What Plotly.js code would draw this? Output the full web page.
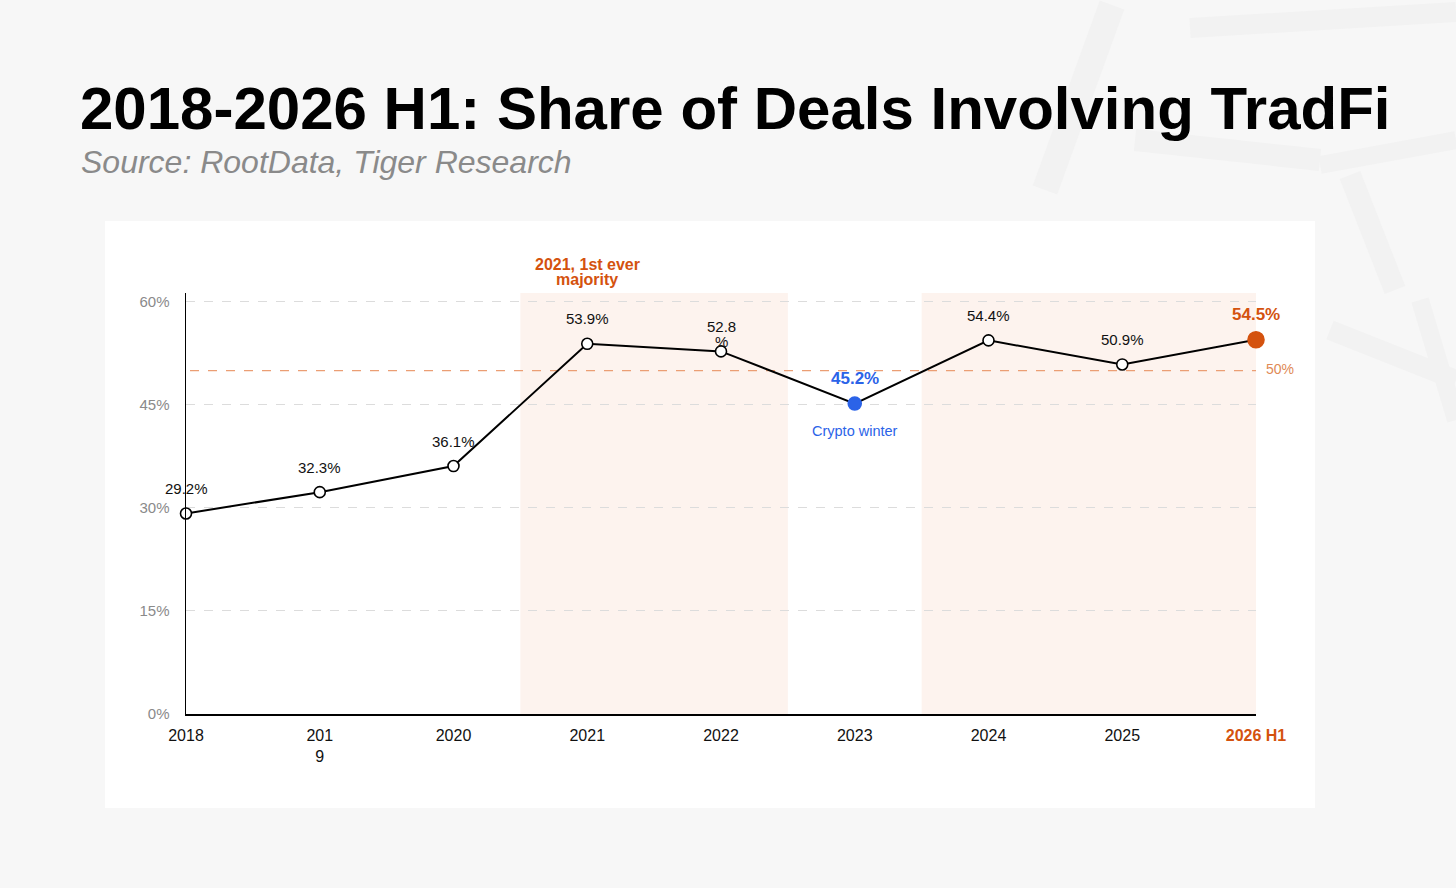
<!DOCTYPE html>
<html>
<head>
<meta charset="utf-8">
<script src="https://cdn.plot.ly/plotly-3.0.1.min.js"></script>
<style>
  html, body { margin: 0; padding: 0; background: #f7f7f7; }
  #myChart { width: 1456px; height: 888px; }
</style>
</head>
<body>
<div id="myChart"></div>
<script>
// data
const years = ["2018", "2019", "2020", "2021", "2022", "2023", "2024", "2025", "2026 H1"];
const tickLabels = ["2018", "201<br>9", "2020", "2021", "2022", "2023", "2024", "2025",
  "<b><span style='color:#d4520e'>2026 H1</span></b>"];
const shares = [29.2, 32.3, 36.1, 53.9, 52.8, 45.2, 54.4, 50.9, 54.5];
const pointLabels = ["29.2%", "32.3%", "36.1%", "53.9%", "52.8<br>%", "<b>45.2%</b>", "54.4%", "50.9%", "<b>54.5%</b>"];
const yTicks = [0, 15, 30, 45, 60];
const yTickLabels = ["0%", "15%", "30%", "45%", "60%"];
const majorityLine = 50;

const orange = "#d4520e";
const blue = "#2b63e8";
const FONT = "Liberation Sans, Arial, sans-serif";

// colours / sizes per point
let fill = shares.map(() => "white");
let edge = shares.map(() => "black");
let size = shares.map(() => 11);
let labelColor = shares.map(() => "#111");
let labelSize = shares.map(() => 15);
fill[5] = blue; edge[5] = blue; size[5] = 13; labelColor[5] = blue; labelSize[5] = 17;
fill[8] = orange; edge[8] = orange; size[8] = 16; labelColor[8] = orange; labelSize[8] = 17;

const xIdx = years.map((y, i) => i);

// pixel -> paper helpers (plot area is 186..1256 x 293..714)
const L = 186, R = 1256, T = 293, B = 714;
function px(x) { return (x - L) / (R - L); }
function py(y) { return (B - y) / (B - T); }

const data = [{
  x: xIdx,
  y: shares,
  mode: "lines+markers",
  opacity: 1,
  line: { color: "black", width: 2 },
  marker: { color: fill, size: size, opacity: 1, line: { color: edge, width: 1.6 } },
  cliponaxis: false,
  hoverinfo: "skip"
}];

// faint watermark strokes in the corner
function stroke(x0, y0, x1, y1, w) {
  return {
    type: "line", xref: "paper", yref: "paper", layer: "below",
    x0: px(x0), y0: py(y0), x1: px(x1), y1: py(y1),
    line: { color: "#f2f2f2", width: w }
  };
}

const shapes = [
  stroke(1045, 190, 1112, 5, 26),
  stroke(1190, 28, 1456, 12, 20),
  stroke(1135, 140, 1320, 160, 22),
  stroke(1320, 165, 1456, 140, 18),
  stroke(1350, 175, 1395, 290, 22),
  stroke(1330, 330, 1456, 380, 20),
  stroke(1420, 300, 1456, 420, 18),
  // white chart panel
  {
    type: "rect", xref: "paper", yref: "paper", layer: "below",
    x0: px(105), x1: px(1315), y0: py(808), y1: py(221),
    fillcolor: "white", line: { width: 0 }
  },
  // shaded bands
  {
    type: "rect", xref: "x", yref: "paper", layer: "below",
    x0: 2.5, x1: 4.5, y0: 0, y1: 1,
    fillcolor: "#fdf3ee", line: { width: 0 }
  },
  {
    type: "rect", xref: "x", yref: "paper", layer: "below",
    x0: 5.5, x1: 8, y0: 0, y1: 1,
    fillcolor: "#fdf3ee", line: { width: 0 }
  },
  // 50% line
  {
    type: "line", xref: "x", yref: "y", layer: "between",
    x0: 0.03, x1: 8, y0: majorityLine, y1: majorityLine,
    line: { color: "#eb9e74", width: 1.2, dash: "dash" }
  }
];

const annotations = [
  {
    text: "<b>2018-2026 H1: Share of Deals Involving TradFi</b>",
    xref: "paper", yref: "paper", x: px(78), y: py(108),
    xanchor: "left", yanchor: "middle", showarrow: false,
    font: { size: 60, color: "#000", family: FONT }
  },
  {
    text: "<i>Source: RootData, Tiger Research</i>",
    xref: "paper", yref: "paper", x: px(79), y: py(162),
    xanchor: "left", yanchor: "middle", showarrow: false,
    font: { size: 32, color: "#8a8a8a", family: FONT }
  },
  {
    text: "<b>2021, 1st ever</b>",
    xref: "x", yref: "paper", x: 3, y: py(264),
    xanchor: "center", yanchor: "middle", showarrow: false,
    font: { size: 16, color: orange, family: FONT }
  },
  {
    text: "<b>majority</b>",
    xref: "x", yref: "paper", x: 3, y: py(280),
    xanchor: "center", yanchor: "middle", showarrow: false,
    font: { size: 16, color: orange, family: FONT }
  },
  {
    text: "Crypto winter",
    xref: "x", yref: "y", x: 5, y: shares[5],
    xanchor: "center", yanchor: "middle", yshift: -27, showarrow: false,
    font: { size: 14.5, color: blue, family: FONT }
  },
  {
    text: majorityLine + "%",
    xref: "x", yref: "y", x: 8, y: majorityLine,
    xanchor: "left", yanchor: "middle", xshift: 8, yshift: 2, showarrow: false,
    font: { size: 14, color: "#e08a55", family: FONT }
  }
];

// value labels above each point (wrapped labels stack downwards)
pointLabels.forEach(function(lbl, i) {
  lbl.split("<br>").forEach(function(line, k) {
    annotations.push({
      text: line,
      xref: "x", yref: "y", x: xIdx[i], y: shares[i],
      xanchor: "center", yanchor: "middle", yshift: 25 - 15 * k,
      showarrow: false,
      font: { size: labelSize[i], color: labelColor[i], family: FONT }
    });
  });
});

const layout = {
  width: 1456,
  height: 888,
  margin: { l: L, r: 1456 - R, t: T, b: 888 - B, pad: 0 },
  paper_bgcolor: "#f7f7f7",
  plot_bgcolor: "rgba(0,0,0,0)",
  showlegend: false,
  font: { family: FONT, color: "#111" },
  xaxis: {
    type: "linear",
    range: [0, 8],
    tickvals: xIdx,
    ticktext: tickLabels,
    showgrid: false,
    zeroline: false,
    showline: true,
    linecolor: "black",
    linewidth: 2,
    ticks: "",
    ticklabelstandoff: 6,
    tickfont: { size: 16, color: "#111" },
    fixedrange: true
  },
  yaxis: {
    range: [0, 61.3],
    tickvals: yTicks,
    ticktext: yTickLabels,
    showgrid: true,
    gridcolor: "#dcdcdc",
    griddash: "dash",
    gridwidth: 1,
    zeroline: false,
    showline: true,
    linecolor: "black",
    linewidth: 1.5,
    ticks: "",
    ticklabelstandoff: 12,
    tickfont: { size: 15, color: "#8a8a8a" },
    fixedrange: true
  },
  shapes: shapes,
  annotations: annotations
};

const config = { displayModeBar: false, staticPlot: true };

Plotly.newPlot("myChart", data, layout, config);
</script>
</body>
</html>
